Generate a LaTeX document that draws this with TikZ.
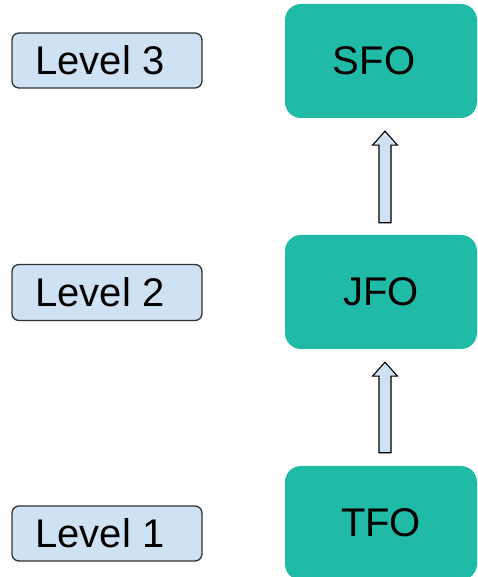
\documentclass[tikz,border=0pt]{standalone}
\usepackage{fontspec}
\setmainfont{Liberation Sans}
\usetikzlibrary{calc}
\definecolor{teal1}{RGB}{32,187,166}
\definecolor{lblue}{RGB}{207,226,243}
\definecolor{bord}{RGB}{50,50,50}
\begin{document}
\begin{tikzpicture}[x=1pt,y=1pt,
  levelbox/.style={draw=bord, line width=1.3pt, fill=lblue, rounded corners=7pt,
    minimum width=190pt, minimum height=55pt, inner sep=0pt,
    font=\fontsize{40}{44}\selectfont},
  fobox/.style={fill=teal1, rounded corners=16pt, minimum width=192pt,
    minimum height=114pt, inner sep=0pt, font=\fontsize{40}{44}\selectfont},
  blockarrow/.style={draw=black, line width=1.1pt, fill=lblue, line join=miter}]
\useasboundingbox (0,0) rectangle (478,577);
\node[levelbox] (L3) at (107,516.5) {\raisebox{-2pt}{Level 3}\hspace*{14pt}};
\node[levelbox, minimum height=56pt] (L2) at (107,284.5) {\raisebox{-2pt}{Level 2}\hspace*{14pt}};
\node[levelbox] (L1) at (107,43.5) {\raisebox{-2pt}{Level 1}\hspace*{14pt}};
\node[fobox] (SFO) at (381,516) {SFO\hspace*{14pt}};
\node[fobox] (JFO) at (381,285) {JFO};
\node[fobox] (TFO) at (381,54) {TFO};
\draw[blockarrow] let \p1=($(JFO.north)+(4,12)$), \p2=($(SFO.south)+(4,-13)$) in
  (\x1-6,\y1) -- (\x1-6,\y2-14) -- (\x1-12.5,\y2-14) -- (\x1,\y2)
  -- (\x1+12.5,\y2-14) -- (\x1+6,\y2-14) -- (\x1+6,\y1) -- cycle;
\draw[blockarrow] let \p1=($(TFO.north)+(4,13)$), \p2=($(JFO.south)+(4,-13)$) in
  (\x1-6,\y1) -- (\x1-6,\y2-14) -- (\x1-12.5,\y2-14) -- (\x1,\y2)
  -- (\x1+12.5,\y2-14) -- (\x1+6,\y2-14) -- (\x1+6,\y1) -- cycle;
\end{tikzpicture}
\end{document}
